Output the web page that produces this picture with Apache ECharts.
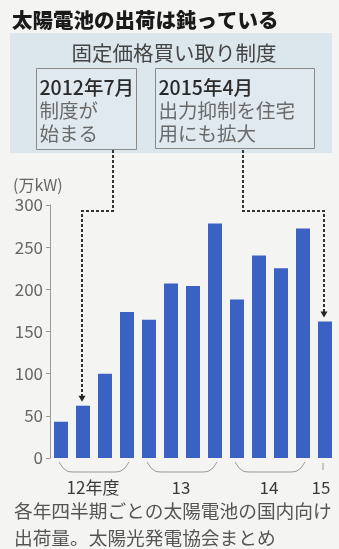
<!DOCTYPE html>
<html><head><meta charset="utf-8">
<script src="https://cdn.jsdelivr.net/npm/echarts/dist/echarts.min.js"></script>
<style>html,body{margin:0;padding:0;background:#f4f4f2;}#c{width:339px;height:549px;}</style>
</head><body><div id="c"></div>
<script>
const categories = ['12Q1','12Q2','12Q3','12Q4','13Q1','13Q2','13Q3','13Q4','14Q1','14Q2','14Q3','14Q4','15Q1'];
const shipments = [43, 62, 100, 173, 164, 207, 204, 278, 188, 240, 225, 272, 162];
const yMin = 0, yMax = 300, yInterval = 50;
const yearLabels = ['12年度', '13', '14', '15'];
const yearGroups = [[0, 3], [4, 7], [8, 11], [12, 12]];
const titleText = '太陽電池の出荷は鈍っている';
const headerText = '固定価格買い取り制度';
const note1 = ['2012年7月', '制度が', '始まる'];
const note2 = ['2015年4月', '出力抑制を住宅', '用にも拡大'];
const note1Index = 1, note2Index = 12;
const unitLabel = '(万kW)';
const caption = ['各年四半期ごとの太陽電池の国内向け', '出荷量。太陽光発電協会まとめ'];

const FONT = '"Noto Sans CJK JP", "Noto Sans", sans-serif';
const chart = echarts.init(document.getElementById('c'), null, {renderer: 'canvas'});
chart.setOption({
  backgroundColor: '#f4f4f2',
  animation: false,
  grid: {left: 50, right: 3, top: 205, bottom: 91, containLabel: false},
  xAxis: {
    type: 'category', data: categories,
    axisLine: {show: false}, axisTick: {show: false}, axisLabel: {show: false}
  },
  yAxis: {
    type: 'value', min: yMin, max: yMax, interval: yInterval,
    axisLine: {show: true, lineStyle: {color: '#9a9a9a', width: 1}},
    axisTick: {show: true, length: 4, lineStyle: {color: '#9a9a9a'}},
    axisLabel: {color: '#666', fontSize: 17, fontFamily: FONT, margin: 7},
    splitLine: {show: false}
  },
  series: [{
    type: 'bar', data: shipments, barWidth: 14,
    itemStyle: {color: '#3b62c2'}
  }]
});

function px(i, v) { return chart.convertToPixel({xAxisIndex: 0, yAxisIndex: 0}, [i, v]); }
const base = px(0, 0)[1];
const top300 = px(0, yMax)[1];
const lvl = top300 + 6;
const g = [];
// title
g.push({type: 'text', style: {text: titleText, x: 12, y: 20, verticalAlign: 'middle', font: '900 20.5px ' + FONT, fill: '#1a1a1a'}});
// header band
g.push({type: 'rect', shape: {x: 10, y: 33, width: 322, height: 120}, style: {fill: '#dbe6ed'}});
g.push({type: 'text', style: {text: headerText, x: 174, y: 53, align: 'center', verticalAlign: 'middle', font: '20.5px ' + FONT, fill: '#444'}});
// boxes
function box(x, y, w, h, lines) {
  g.push({type: 'rect', shape: {x: x, y: y, width: w, height: h}, style: {fill: '#dfe9ef', stroke: '#8a8a8a', lineWidth: 1}});
  lines.forEach(function (t, k) {
    g.push({type: 'text', style: {text: t, x: x + 3, y: y + 19 + k * 23, verticalAlign: 'middle',
      font: (k === 0 ? '500 ' : '') + '19.5px ' + FONT, fill: k === 0 ? '#2a2a2a' : '#6a6a6a'}});
  });
}
box(36.5, 68.5, 100, 81, note1);
box(155.5, 68.5, 159, 80, note2);
// connectors
function connector(sx, idx) {
  const c = px(idx, shipments[idx]);
  const tipY = c[1] - 4;
  g.push({type: 'polyline', shape: {points: [[sx, 150], [sx, lvl], [c[0] - 1, lvl], [c[0] - 1, tipY - 5]]},
    style: {stroke: '#333', lineWidth: 2, lineDash: [3, 2], fill: null}});
  g.push({type: 'polygon', shape: {points: [[c[0] - 4.5, tipY - 6], [c[0] + 2.5, tipY - 6], [c[0] - 1, tipY]]}, style: {fill: '#222'}});
}
connector(113, note1Index);
connector(243, note2Index);
// unit label
g.push({type: 'text', style: {text: unitLabel, x: 13, y: 185, verticalAlign: 'middle', font: '16px ' + FONT, fill: '#666'}});
// year brackets & labels
yearGroups.forEach(function (gr, k) {
  const xa = px(gr[0], 0)[0], xb = px(gr[1], 0)[0];
  if (gr[0] !== gr[1]) {
    const a = xa - 2, b = xb + 2, y1 = base + 4, y2 = base + 14;
    g.push({type: 'polyline', shape: {points: [[a, y1], [a + 4, y2 - 4], [a + 9, y2 - 0.5], [a + 14, y2], [b - 14, y2], [b - 9, y2 - 0.5], [b - 4, y2 - 4], [b, y1]]},
      style: {stroke: '#9a9a9a', lineWidth: 1, fill: null}});
  } else {
    g.push({type: 'line', shape: {x1: xa - 2, y1: base + 5, x2: xa - 2, y2: base + 12}, style: {stroke: '#9a9a9a', lineWidth: 1}});
  }
  const cx = (xa + xb) / 2 - (gr[0] === gr[1] ? 4 : 1);
  g.push({type: 'text', style: {text: yearLabels[k], x: cx, y: base + 30, align: 'center', verticalAlign: 'middle', font: '17px ' + FONT, fill: '#3a3a3a'}});
});
// caption
caption.forEach(function (t, k) {
  g.push({type: 'text', style: {text: t, x: 14, y: 511 + k * 27, verticalAlign: 'middle', font: '18.7px ' + FONT, fill: '#555'}});
});
chart.setOption({graphic: g});
</script></body></html>
